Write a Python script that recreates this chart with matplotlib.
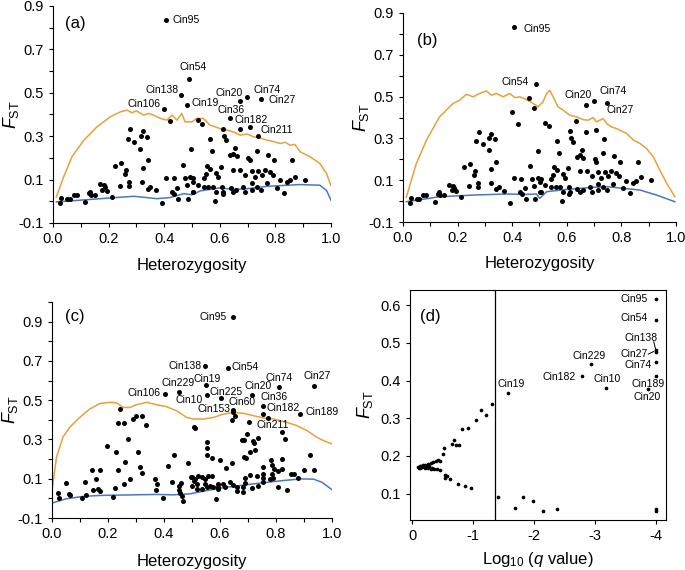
import matplotlib
matplotlib.use("Agg")
import matplotlib.pyplot as plt
from matplotlib.ticker import MultipleLocator, FormatStrFormatter

plt.rcParams['font.family'] = ['Liberation Sans', 'DejaVu Sans']
plt.rcParams['mathtext.fontset'] = 'custom'
plt.rcParams['mathtext.rm'] = 'Liberation Sans'
plt.rcParams['mathtext.it'] = 'Liberation Sans:italic'
plt.rcParams['axes.unicode_minus'] = False

ORANGE = '#E8A03A'
BLUE = '#4A78BE'

# ---- panels (a) and (b): same loci, different simulated envelopes ----
het_ab = [0.407, 0.488, 0.460, 0.401, 0.481, 0.671, 0.699, 0.747, 0.635, 0.707, 0.738,
          0.422, 0.278, 0.322, 0.268, 0.292, 0.316, 0.338, 0.314, 0.340, 0.496,
          0.224, 0.246, 0.263, 0.259, 0.323, 0.273, 0.273, 0.242, 0.321, 0.350, 0.369,
          0.405, 0.434, 0.467, 0.474, 0.493, 0.481, 0.446, 0.429, 0.436, 0.450, 0.484,
          0.505, 0.392, 0.170, 0.182, 0.178, 0.194, 0.212, 0.152, 0.132, 0.137, 0.116,
          0.086, 0.074, 0.060, 0.029, 0.024, 0.186, 0.130, 0.050, 0.502, 0.341,
          0.671, 0.520, 0.536, 0.613, 0.616, 0.565, 0.623, 0.571, 0.655, 0.637, 0.661,
          0.703, 0.707, 0.733, 0.772, 0.795, 0.647, 0.605, 0.553, 0.549, 0.563, 0.585,
          0.594, 0.649, 0.673, 0.715, 0.739, 0.751, 0.763, 0.781, 0.691, 0.727, 0.544,
          0.505, 0.520, 0.543, 0.559, 0.577, 0.587, 0.607, 0.613, 0.610, 0.639, 0.649,
          0.658, 0.685, 0.691, 0.715, 0.715, 0.747, 0.733, 0.769, 0.805, 0.832, 0.841,
          0.853, 0.871, 0.907, 0.817, 0.793, 0.583, 0.503, 0.861]
fst_ab = [0.835, 0.562, 0.492, 0.425, 0.446, 0.460, 0.480, 0.471, 0.383, 0.341, 0.299,
          0.369, 0.331, 0.323, 0.286, 0.274, 0.300, 0.297, 0.243, 0.189, 0.240,
          0.161, 0.177, 0.143, 0.125, 0.154, 0.089, 0.069, 0.071, 0.089, 0.066, 0.050,
          0.109, 0.106, 0.169, 0.108, 0.112, 0.074, 0.063, 0.043, 0.035, 0.009, 0.012,
          0.043, -0.010, 0.079, 0.074, 0.051, 0.046, 0.020, 0.031, 0.043, 0.028, -0.003,
          0.028, 0.031, 0.009, 0.015, -0.008, 0.064, 0.036, 0.010, 0.090, 0.058,
          0.332, 0.374, 0.358, 0.335, 0.301, 0.289, 0.282, 0.230, 0.246, 0.212, 0.207,
          0.200, 0.189, 0.230, 0.215, 0.188, 0.220, 0.158, 0.162, 0.127, 0.147, 0.132,
          0.112, 0.143, 0.143, 0.139, 0.139, 0.120, 0.143, 0.135, 0.120, 0.112, 0.108,
          0.106, 0.075, 0.068, 0.068, 0.068, 0.045, 0.068, 0.045, 0.032, 0.060, 0.045,
          0.052, 0.068, 0.045, 0.083, 0.052, 0.052, 0.068, 0.083, 0.063, 0.037, 0.088,
          0.097, 0.114, 0.100, 0.097, 0.120, 0.001, 0.045, 0.189]

upper_a_x = [0.012, 0.038, 0.068, 0.110, 0.158, 0.206, 0.242, 0.266, 0.284, 0.300, 0.326,
             0.345, 0.362, 0.386, 0.410, 0.428, 0.446, 0.463, 0.475, 0.500, 0.517, 0.541,
             0.565, 0.601, 0.625, 0.649, 0.673, 0.700, 0.721, 0.745, 0.769, 0.795, 0.817,
             0.835, 0.853, 0.870, 0.889, 0.925, 0.960, 0.984, 0.999]
upper_a_y = [0.020, 0.112, 0.205, 0.280, 0.343, 0.389, 0.412, 0.420, 0.408, 0.417, 0.397,
             0.405, 0.397, 0.382, 0.374, 0.397, 0.374, 0.405, 0.366, 0.366, 0.382, 0.382,
             0.351, 0.335, 0.328, 0.320, 0.305, 0.310, 0.297, 0.292, 0.282, 0.275, 0.266,
             0.272, 0.258, 0.262, 0.228, 0.205, 0.174, 0.128, 0.074]
lower_a_x = [0.012, 0.170, 0.290, 0.330, 0.374, 0.420, 0.470, 0.500, 0.530, 0.600, 0.650,
             0.700, 0.770, 0.889, 0.960, 0.984, 1.000]
lower_a_y = [-0.003, 0.012, 0.023, 0.018, 0.012, 0.017, 0.035, 0.030, 0.048, 0.062, 0.055,
             0.058, 0.069, 0.077, 0.074, 0.050, 0.005]

upper_b_x = [0.012, 0.049, 0.086, 0.134, 0.183, 0.208, 0.232, 0.257, 0.281, 0.306, 0.324,
             0.342, 0.367, 0.391, 0.410, 0.428, 0.452, 0.477, 0.495, 0.513, 0.526, 0.538,
             0.550, 0.568, 0.587, 0.611, 0.636, 0.660, 0.678, 0.697, 0.709, 0.733, 0.746,
             0.764, 0.782, 0.819, 0.844, 0.868, 0.892, 0.917, 0.941, 0.966, 0.996]
upper_b_y = [0.018, 0.180, 0.292, 0.403, 0.467, 0.483, 0.511, 0.499, 0.515, 0.527, 0.507,
             0.515, 0.499, 0.515, 0.495, 0.499, 0.486, 0.467, 0.451, 0.475, 0.515, 0.530,
             0.499, 0.451, 0.435, 0.411, 0.403, 0.390, 0.387, 0.400, 0.379, 0.395, 0.371,
             0.355, 0.347, 0.324, 0.292, 0.276, 0.252, 0.212, 0.148, 0.085, 0.021]
lower_b_x = [0.012, 0.134, 0.257, 0.379, 0.452, 0.489, 0.501, 0.526, 0.599, 0.697, 0.746,
             0.807, 0.868, 0.929, 0.996]
lower_b_y = [-0.003, 0.021, 0.029, 0.034, 0.032, 0.034, 0.013, 0.045, 0.056, 0.066, 0.069,
             0.061, 0.053, 0.029, -0.003]

labels_a = {'Cin95': (0.479, 0.835), 'Cin54': (0.505, 0.620), 'Cin138': (0.392, 0.512),
            'Cin106': (0.329, 0.448), 'Cin19': (0.547, 0.451), 'Cin20': (0.632, 0.500),
            'Cin74': (0.769, 0.512), 'Cin27': (0.824, 0.466), 'Cin36': (0.641, 0.420),
            'Cin182': (0.713, 0.374), 'Cin211': (0.804, 0.328)}
labels_b = {'Cin95': (0.491, 0.825), 'Cin54': (0.411, 0.570), 'Cin20': (0.643, 0.507),
            'Cin74': (0.769, 0.527), 'Cin27': (0.797, 0.435)}

# ---- panel (c) ----
het_c = [0.648, 0.545, 0.628, 0.549, 0.453, 0.403, 0.552, 0.604, 0.810, 0.937, 0.716,
         0.753, 0.645, 0.648, 0.753, 0.887, 0.773,
         0.242, 0.234, 0.258, 0.290, 0.299, 0.322, 0.335, 0.270, 0.198, 0.230, 0.308,
         0.260, 0.236, 0.314, 0.321, 0.278, 0.256, 0.224, 0.218, 0.144, 0.170, 0.156,
         0.165, 0.173, 0.147, 0.119, 0.121, 0.108, 0.049, 0.060, 0.063, 0.023, 0.025,
         0.397, 0.367, 0.374, 0.371, 0.413, 0.435, 0.427, 0.461, 0.455, 0.452, 0.457,
         0.463, 0.469, 0.484, 0.499, 0.507, 0.508,
         0.654, 0.642, 0.705, 0.510, 0.823, 0.833, 0.696, 0.678, 0.684, 0.717, 0.720,
         0.737, 0.552, 0.555, 0.708, 0.684, 0.692, 0.726, 0.555, 0.572, 0.600, 0.642,
         0.622, 0.782, 0.784, 0.792, 0.821, 0.920, 0.901, 0.937, 0.854, 0.865, 0.877,
         0.820, 0.808, 0.785, 0.789, 0.753, 0.753, 0.753, 0.755, 0.731, 0.707, 0.689,
         0.689, 0.713, 0.737, 0.779, 0.808, 0.841, 0.683, 0.659, 0.645, 0.636, 0.612,
         0.594, 0.594, 0.594, 0.618, 0.565, 0.570, 0.558, 0.547, 0.535, 0.523, 0.511,
         0.495, 0.517, 0.547, 0.552, 0.535, 0.517, 0.576, 0.683, 0.659, 0.586, 0.499]
fst_c = [0.925, 0.675, 0.666, 0.577, 0.543, 0.533, 0.526, 0.510, 0.565, 0.573, 0.526,
         0.470, 0.452, 0.442, 0.432, 0.428, 0.410,
         0.455, 0.383, 0.383, 0.404, 0.417, 0.417, 0.375, 0.302, 0.268, 0.237, 0.237,
         0.187, 0.145, 0.162, 0.130, 0.100, 0.074, 0.055, 0.005, 0.145, 0.145, 0.097,
         0.050, 0.038, 0.042, 0.081, 0.019, 0.002, 0.079, 0.023, 0.015, 0.027, 0.002,
         0.002, 0.100, 0.074, 0.045, 0.165, 0.219, 0.082, 0.079, 0.062, 0.045, 0.028,
         0.011, -0.011, 0.180, 0.108, 0.091, 0.361,
         0.420, 0.400, 0.387, 0.360, 0.339, 0.302, 0.327, 0.299, 0.298, 0.294, 0.280,
         0.306, 0.285, 0.255, 0.234, 0.209, 0.204, 0.248, 0.221, 0.206, 0.193, 0.181,
         0.155, 0.193, 0.170, 0.150, 0.201, 0.221, 0.145, 0.142, 0.124, 0.124, 0.102,
         0.150, 0.137, 0.124, 0.102, 0.158, 0.124, 0.102, 0.085, 0.114, 0.117, 0.102,
         0.076, 0.055, 0.061, 0.099, 0.060, 0.043, 0.056, 0.056, 0.070, 0.082, 0.074,
         0.074, 0.056, 0.048, 0.056, 0.065, 0.113, 0.113, 0.100, 0.108, 0.113, 0.100,
         0.108, 0.075, 0.075, 0.056, 0.048, 0.048, 0.060, 0.031, 0.039, -0.003, 0.065]

upper_c_x = [0.000, 0.016, 0.039, 0.063, 0.099, 0.135, 0.171, 0.207, 0.230, 0.254, 0.278,
             0.302, 0.338, 0.374, 0.409, 0.445, 0.481, 0.505, 0.541, 0.576, 0.612, 0.648,
             0.684, 0.720, 0.755, 0.791, 0.839, 0.875, 0.911, 0.946, 0.970, 1.000]
upper_c_y = [0.040, 0.209, 0.311, 0.362, 0.412, 0.455, 0.483, 0.489, 0.487, 0.463, 0.463,
             0.477, 0.489, 0.477, 0.467, 0.446, 0.412, 0.404, 0.404, 0.412, 0.429, 0.438,
             0.433, 0.421, 0.409, 0.404, 0.387, 0.370, 0.345, 0.311, 0.294, 0.277]
lower_c_x = [0.000, 0.051, 0.111, 0.171, 0.290, 0.374, 0.433, 0.493, 0.553, 0.624, 0.720,
             0.827, 0.887, 0.934, 0.964, 1.000]
lower_c_y = [-0.024, -0.002, 0.010, 0.015, 0.018, 0.020, 0.018, 0.023, 0.040, 0.057, 0.074,
             0.091, 0.099, 0.098, 0.082, 0.044]

labels_c = {'Cin95': (0.574, 0.925), 'Cin138': (0.475, 0.675), 'Cin54': (0.691, 0.671),
            'Cin74': (0.810, 0.612), 'Cin27': (0.946, 0.624), 'Cin229': (0.451, 0.585),
            'Cin19': (0.556, 0.607), 'Cin106': (0.328, 0.536), 'Cin10': (0.489, 0.502),
            'Cin225': (0.622, 0.544), 'Cin20': (0.735, 0.570), 'Cin36': (0.792, 0.514),
            'Cin153': (0.578, 0.455), 'Cin60': (0.680, 0.489), 'Cin182': (0.827, 0.460),
            'Cin189': (0.964, 0.438), 'Cin211': (0.788, 0.375)}

# ---- panel (d) ----
logq_d = [-3.99, -3.99, -3.99, -3.99, -3.99, -3.99, -3.87, -2.93, -2.78, -3.18, -1.57,
          -3.99, -3.99, -1.41, -1.68, -1.81, -1.98, -2.15, -2.37,
          -1.30, -1.12, -1.20, -1.05, -0.91, -0.82, -0.68, -0.65, -0.71, -0.77, -0.52,
          -0.50, -0.42, -0.46, -0.38, -0.34, -0.30, -0.26, -0.21, -0.17, -0.14, -0.11,
          -0.10, -0.15, -0.20, -0.26, -0.30, -0.35, -0.41, -0.45, -0.54, -0.57, -0.53,
          -0.61, -0.74, -0.87, -0.96, -0.12, -0.18, -0.22, -0.24, -0.28, -0.32, -0.13, -0.09]
fst_d = [0.616, 0.560, 0.481, 0.476, 0.450, 0.411, 0.377, 0.443, 0.411, 0.379, 0.368,
         0.058, 0.053, 0.090, 0.062, 0.090, 0.080, 0.053, 0.059,
         0.339, 0.321, 0.308, 0.295, 0.275, 0.271, 0.243, 0.232, 0.228, 0.228, 0.222,
         0.204, 0.188, 0.186, 0.186, 0.184, 0.181, 0.179, 0.176, 0.175, 0.173, 0.170,
         0.169, 0.170, 0.169, 0.169, 0.165, 0.165, 0.164, 0.162, 0.149, 0.146, 0.142,
         0.139, 0.126, 0.121, 0.116, 0.172, 0.172, 0.171, 0.174, 0.172, 0.168, 0.168, 0.171]
q_threshold = -1.36

labels_d = {'Cin95': (-3.64, 0.616), 'Cin54': (-3.64, 0.565), 'Cin138': (-3.75, 0.514),
            'Cin27': (-3.64, 0.470), 'Cin74': (-3.71, 0.442), 'Cin189': (-3.86, 0.392),
            'Cin20': (-3.85, 0.357), 'Cin229': (-2.90, 0.465), 'Cin182': (-2.41, 0.410),
            'Cin10': (-3.20, 0.403), 'Cin19': (-1.62, 0.392)}

FST_LABEL = r'$F_{\mathrm{ST}}$'


def place_labels(ax, ylab_x, xlab_y):
    # axis titles sit at fixed offsets from the spines, as in the figure
    ax.yaxis.set_label_coords(ylab_x, 0.5)
    ax.yaxis.label.set_va('center')
    ax.xaxis.set_label_coords(0.5, xlab_y)
    ax.xaxis.label.set_va('center')


def style_het_axis(ax, ytop):
    ax.set_xlim(0, 1)
    ax.set_ylim(-0.1, ytop)
    ax.spines['top'].set_visible(False)
    ax.spines['right'].set_visible(False)
    ax.xaxis.set_major_locator(MultipleLocator(0.2))
    ax.xaxis.set_minor_locator(MultipleLocator(0.1))
    ax.yaxis.set_major_locator(MultipleLocator(0.2, offset=0.1))
    ax.yaxis.set_minor_locator(MultipleLocator(0.1))
    ax.xaxis.set_major_formatter(FormatStrFormatter('%.1f'))
    ax.yaxis.set_major_formatter(FormatStrFormatter('%.1f'))
    ax.tick_params(which='both', direction='out', length=3, width=0.8, labelsize=10.5)
    ax.set_xlabel('Heterozygosity', fontsize=12)
    ax.set_ylabel(FST_LABEL, fontsize=13)


def draw_het_panel(ax, het, fst, ux, uy, lx, ly, labels, tag, tagpos, ytop):
    ax.plot(ux, uy, color=ORANGE, lw=1.1)
    ax.plot(lx, ly, color=BLUE, lw=1.1)
    ax.scatter(het, fst, s=13, color='black', zorder=3, linewidths=0)
    for name, (tx, ty) in labels.items():
        ax.text(tx, ty, name, fontsize=7.5, ha='center', va='center')
    ax.text(tagpos[0], tagpos[1], tag, fontsize=12, ha='center', va='center')
    style_het_axis(ax, ytop)


fig = plt.figure(figsize=(6.85, 5.7), dpi=100)

ax_a = fig.add_axes([0.0774, 0.6088, 0.4058, 0.3807])
draw_het_panel(ax_a, het_ab, fst_ab, upper_a_x, upper_a_y, lower_a_x, lower_a_y,
               labels_a, '(a)', (0.08, 0.82), 0.9)
place_labels(ax_a, -0.15, -0.194)

ax_b = fig.add_axes([0.5883, 0.6105, 0.3985, 0.3667])
draw_het_panel(ax_b, het_ab, fst_ab, upper_b_x, upper_b_y, lower_b_x, lower_b_y,
               labels_b, '(b)', (0.09, 0.77), 0.9)
place_labels(ax_b, -0.155, -0.20)

ax_c = fig.add_axes([0.0759, 0.0912, 0.4088, 0.379])
draw_het_panel(ax_c, het_c, fst_c, upper_c_x, upper_c_y, lower_c_x, lower_c_y,
               labels_c, '(c)', (0.08, 0.925), 1.0)
place_labels(ax_c, -0.15, -0.20)

ax_d = fig.add_axes([0.5985, 0.0877, 0.3737, 0.4035])
ax_d.axvline(q_threshold, color='black', lw=0.9)
ax_d.scatter(logq_d, fst_d, s=7, color='black', zorder=3, linewidths=0)
for name, (tx, ty) in labels_d.items():
    ax_d.text(tx, ty, name, fontsize=7.5, ha='center', va='center')
ax_d.plot([-3.96, -3.99], [0.503, 0.483], color='black', lw=0.7)
ax_d.plot([-3.87, -3.96], [0.470, 0.477], color='black', lw=0.7)
ax_d.text(-0.29, 0.57, '(d)', fontsize=12, ha='center', va='center')
ax_d.set_xlim(0.04, -4.16)
ax_d.set_ylim(0.03, 0.64)
ax_d.set_xticks([0, -1, -2, -3, -4])
ax_d.set_xticklabels(['0', '-1', '-2', '-3', '-4'])
ax_d.yaxis.set_major_locator(MultipleLocator(0.1))
ax_d.yaxis.set_major_formatter(FormatStrFormatter('%.1f'))
ax_d.tick_params(direction='out', length=3, width=0.8, labelsize=10.5)
ax_d.set_xlabel(r'Log$_{10}$ ($q$ value)', fontsize=12)
ax_d.set_ylabel(FST_LABEL, fontsize=13)
place_labels(ax_d, -0.175, -0.172)

fig.savefig('out.png', dpi=100)
